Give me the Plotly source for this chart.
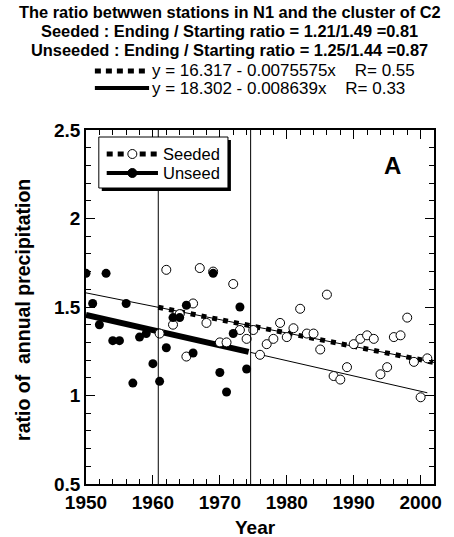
import plotly.graph_objects as go

# ---------------- data ----------------
unseeded_years = [1950, 1951, 1952, 1953, 1954, 1955, 1956, 1957, 1958, 1959, 1960,
                  1961, 1962, 1963, 1964, 1965, 1966, 1969, 1970, 1971, 1972, 1973, 1974]
unseeded_vals = [1.69, 1.52, 1.40, 1.69, 1.31, 1.31, 1.52, 1.07, 1.33, 1.35, 1.18,
                 1.08, 1.27, 1.44, 1.44, 1.51, 1.24, 1.69, 1.13, 1.02, 1.35, 1.50, 1.15]

seeded_years = [1961, 1962, 1963, 1964, 1965, 1966, 1967, 1968, 1969, 1970, 1971, 1972,
                1973, 1974, 1975, 1976, 1977, 1978, 1979, 1980, 1981, 1982, 1983, 1984,
                1985, 1986, 1987, 1988, 1989, 1990, 1991, 1992, 1993, 1994, 1995, 1996,
                1997, 1998, 1999, 2000, 2001]
seeded_vals = [1.35, 1.71, 1.40, 1.46, 1.22, 1.52, 1.72, 1.41, 1.70, 1.30, 1.30, 1.63,
               1.37, 1.32, 1.37, 1.23, 1.29, 1.32, 1.41, 1.33, 1.38, 1.49, 1.35, 1.35,
               1.26, 1.57, 1.11, 1.09, 1.16, 1.29, 1.32, 1.34, 1.32, 1.12, 1.16, 1.33,
               1.34, 1.44, 1.19, 0.99, 1.21]

seeded_fit = (16.317, -0.0075575)
unseeded_fit = (18.302, -0.008639)
period_marks = [1960.8, 1974.6]

title_lines = ["The ratio betwwen stations in N1 and the cluster of C2",
               "Seeded : Ending / Starting ratio = 1.21/1.49 =0.81",
               "Unseeded : Ending / Starting ratio = 1.25/1.44 =0.87"]
NB = "\u00a0"
fit_labels = ["y = 16.317 - 0.0075575x" + NB * 4 + "R= 0.55",
              "y = 18.302 - 0.008639x" + NB * 4 + "R= 0.33"]

# ---------------- layout geometry ----------------
W, H = 454, 537
L, R, T, B = 86, 439, 130, 484
FONT = "Liberation Sans, Arial, sans-serif"


def px(x):
    return (x - L) / (R - L)


def py(y):
    return (B - y) / (B - T)


def fit(c, xs):
    return [c[0] + c[1] * x for x in xs]


fig = go.Figure()

# thin seeded fit line (whole period)
sx = [1950, 2002]
fig.add_trace(go.Scatter(x=sx, y=fit(seeded_fit, sx), mode="lines",
                         line=dict(color="black", width=1), showlegend=False, hoverinfo="skip"))
# thin unseeded extension
ux2 = [1974.6, 2001]
fig.add_trace(go.Scatter(x=ux2, y=fit(unseeded_fit, ux2), mode="lines",
                         line=dict(color="black", width=1), showlegend=False, hoverinfo="skip"))
# thick unseeded fit
ux = [1950, 1974.3]
fig.add_trace(go.Scatter(x=ux, y=fit(unseeded_fit, ux), mode="lines",
                         line=dict(color="black", width=6), showlegend=False, hoverinfo="skip"))
# dashed seeded fit
sx2 = [1960.8, 2002]
fig.add_trace(go.Scatter(x=sx2, y=fit(seeded_fit, sx2), mode="lines",
                         line=dict(color="black", width=5, dash="5px,6px"),
                         showlegend=False, hoverinfo="skip"))

# open circles (seeded)
fig.add_trace(go.Scatter(x=seeded_years, y=seeded_vals, mode="markers",
                         marker=dict(symbol="circle", size=9, color="white",
                                     line=dict(color="black", width=1)),
                         showlegend=False))
# filled circles (unseeded)
fig.add_trace(go.Scatter(x=unseeded_years, y=unseeded_vals, mode="markers",
                         marker=dict(symbol="circle", size=9, color="black",
                                     line=dict(color="black", width=0)),
                         showlegend=False))

shapes = []
for xv in period_marks:
    shapes.append(dict(type="line", xref="x", yref="paper", x0=xv, x1=xv, y0=0, y1=1,
                       line=dict(color="black", width=1)))

# inner legend box with shadow
bx0, bx1, by0, by1 = 99, 230, 137, 188
shapes.append(dict(type="rect", xref="paper", yref="paper",
                   x0=px(bx0 + 3), x1=px(bx1 + 3), y0=py(by1 + 3), y1=py(by0 + 3),
                   fillcolor="black", line=dict(width=0), layer="above"))
shapes.append(dict(type="rect", xref="paper", yref="paper",
                   x0=px(bx0), x1=px(bx1), y0=py(by1), y1=py(by0),
                   fillcolor="white", line=dict(color="black", width=1), layer="above"))
# Seeded legend sample
ls0, ls1 = 107, 159
shapes.append(dict(type="line", xref="paper", yref="paper", x0=px(ls0), x1=px(ls1),
                   y0=py(154), y1=py(154), line=dict(color="black", width=5, dash="6px,5px"),
                   layer="above"))
shapes.append(dict(type="circle", xref="paper", yref="paper", xsizemode="pixel",
                   ysizemode="pixel", xanchor=px(133), yanchor=py(154),
                   x0=-4.5, x1=4.5, y0=-4.5, y1=4.5, fillcolor="white",
                   line=dict(color="black", width=1), layer="above"))
# Unseed legend sample
shapes.append(dict(type="line", xref="paper", yref="paper", x0=px(ls0), x1=px(ls1),
                   y0=py(173), y1=py(173), line=dict(color="black", width=4),
                   layer="above"))
shapes.append(dict(type="circle", xref="paper", yref="paper", xsizemode="pixel",
                   ysizemode="pixel", xanchor=px(133), yanchor=py(173),
                   x0=-4.5, x1=4.5, y0=-4.5, y1=4.5, fillcolor="black",
                   line=dict(color="black", width=1), layer="above"))

# top fit-equation samples
shapes.append(dict(type="line", xref="paper", yref="paper", x0=px(95), x1=px(150),
                   y0=py(71), y1=py(71), line=dict(color="black", width=5, dash="6px,5px")))
shapes.append(dict(type="line", xref="paper", yref="paper", x0=px(95), x1=px(150),
                   y0=py(88), y1=py(88), line=dict(color="black", width=4)))

annotations = []
for i, t in enumerate(title_lines):
    annotations.append(dict(text=f"<b>{t}</b>", xref="paper", yref="paper",
                            x=px(232), y=py(12 + 19 * i), xanchor="center", yanchor="middle",
                            showarrow=False, font=dict(family=FONT, size=16.4, color="black")))
for i, t in enumerate(fit_labels):
    annotations.append(dict(text=t, xref="paper", yref="paper",
                            x=px(151), y=py(71 + 17 * i), xanchor="left", yanchor="middle",
                            showarrow=False, font=dict(family=FONT, size=17, color="black")))
for t, yy in [("Seeded", 154), ("Unseed", 173)]:
    annotations.append(dict(text=t, xref="paper", yref="paper", x=px(162), y=py(yy),
                            xanchor="left", yanchor="middle", showarrow=False,
                            font=dict(family=FONT, size=16.5, color="black")))
annotations.append(dict(text="<b>A</b>", xref="paper", yref="paper", x=px(397), y=py(165),
                        xanchor="center", yanchor="middle", showarrow=False,
                        font=dict(family=FONT, size=24, color="black")))
annotations.append(dict(text="<b>ratio of" + NB * 2 + "annual precipitation</b>", xref="paper",
                        yref="paper", x=px(22), y=py(310), xanchor="center", yanchor="middle",
                        textangle=-90, showarrow=False,
                        font=dict(family=FONT, size=19.5, color="black")))
annotations.append(dict(text="<b>Year</b>", xref="paper", yref="paper", x=px(258), y=py(527),
                        xanchor="center", yanchor="middle", showarrow=False,
                        font=dict(family=FONT, size=19, color="black")))

axis_common = dict(showline=True, linecolor="black", linewidth=1.5, mirror="ticks",
                   ticks="inside", tickcolor="black", tickwidth=1, showgrid=False,
                   zeroline=False, tickfont=dict(family=FONT, size=19, color="black"))

fig.update_layout(
    width=W, height=H,
    margin=dict(l=L, r=W - R, t=T, b=H - B, pad=0),
    paper_bgcolor="white", plot_bgcolor="white",
    showlegend=False,
    xaxis=dict(range=[1950, 2002], tickmode="array", tickvals=[1950, 1960, 1970, 1980, 1990, 2000],
               ticktext=[f"<b>{v}</b>" for v in [1950, 1960, 1970, 1980, 1990, 2000]],
               ticklen=9, minor=dict(dtick=2, ticks="inside", ticklen=5, tickcolor="black"),
               **axis_common),
    yaxis=dict(range=[0.5, 2.5], tickmode="array", tickvals=[0.5, 1, 1.5, 2, 2.5],
               ticktext=["<b>0.5</b>", "<b>1</b>", "<b>1.5</b>", "<b>2</b>", "<b>2.5</b>"],
               ticklen=9, minor=dict(dtick=0.1, ticks="inside", ticklen=5, tickcolor="black"),
               **axis_common),
    shapes=shapes, annotations=annotations,
)

fig.write_html("out.html")
